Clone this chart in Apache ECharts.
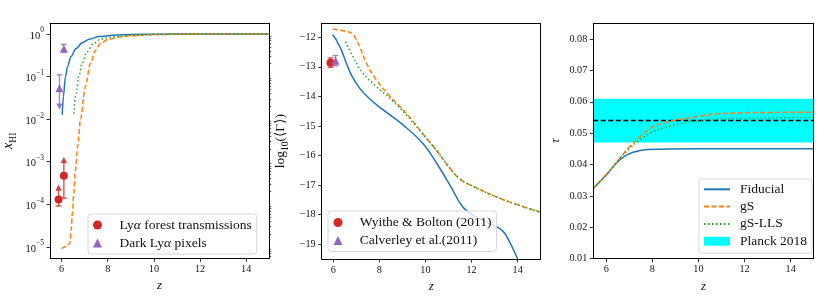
<!DOCTYPE html>
<html><head><meta charset="utf-8">
<script src="https://cdn.jsdelivr.net/npm/echarts@6/dist/echarts.min.js"></script>
<style>html,body{margin:0;padding:0;background:#fff}#c{width:830px;height:298px}</style>
</head><body><div id="c"></div><script>
// ---------------- data ----------------
const zTicks = [6, 8, 10, 12, 14];

// Panel 1: neutral fraction x_HI (actual values, drawn on log scale)
const xhiFidZ = [6.03, 6.08, 6.17, 6.26, 6.41, 6.63, 6.91, 7.2, 7.63, 8.2, 9, 10, 12, 15];
const xhiFid  = [0.0126, 0.0339, 0.100, 0.170, 0.295, 0.457, 0.631, 0.750, 0.871, 0.933, 0.973, 0.989, 0.995, 1.0];
const xhiGSZ  = [6.0, 6.2, 6.36, 6.42, 6.47, 6.53, 6.6, 6.7, 6.82, 7.03, 7.25, 7.47, 7.7, 8.0, 8.5, 9.0, 10, 11, 12, 15];
const xhiGS   = [9.1e-6, 1.02e-5, 1.2e-5, 2.51e-5, 6.31e-5, 1.78e-4, 6.31e-4, 2.24e-3, 1.0e-2, 5.75e-2, 0.204, 0.417, 0.603, 0.741, 0.851, 0.912, 0.966, 0.986, 0.993, 1.0];
const xhiLLSZ = [6.53, 6.63, 6.75, 6.89, 7.1, 7.39, 7.68, 8.0, 8.5, 9.0, 10, 11, 12, 15];
const xhiLLS  = [0.0135, 0.0407, 0.100, 0.204, 0.380, 0.603, 0.750, 0.822, 0.881, 0.923, 0.968, 0.986, 0.993, 1.0];
// observations: z, value, lower end, upper end, limit arrow (1 up, -1 down, 0 none)
const lyaForestZ   = [5.87, 6.1];
const lyaForest    = [1.3e-4, 4.7e-4];
const lyaForestLo  = [9.1e-5, 1.4e-4];
const lyaForestHi  = [2.2e-4, 9.8e-4];
const lyaForestLim = [1, 1];
const darkPixZ   = [5.91, 6.1];
const darkPix    = [0.053, 0.45];
const darkPixLo  = [0.022, 0.38];
const darkPixHi  = [0.11, 0.57];
const darkPixLim = [-1, 0];
const xhiRange = [5.4e-6, 1.78];
const xhiMajorExp = [-5, -4, -3, -2, -1, 0];

// Panel 2: log10 <Gamma>
const gamFidZ = [5.97, 6.1, 6.2, 6.35, 6.57, 6.79, 7.15, 7.6, 8.17, 9.0, 9.9, 10.5, 11.1, 11.62, 12.2, 12.8, 13.35, 13.7, 14.0, 14.3];
const gamFid  = [-11.92, -12.05, -12.2, -12.43, -12.88, -13.28, -13.73, -14.1, -14.46, -14.95, -15.6, -16.28, -17.05, -17.74, -18.08, -18.3, -18.55, -19.0, -19.5, -20.0];
const gamGSZ  = [5.98, 6.4, 6.8, 6.93, 7.15, 7.44, 7.88, 8.46, 9.2, 9.77, 10.5, 11.08, 11.5, 11.95, 13.4, 15];
const gamGS   = [-11.72, -11.78, -11.86, -11.98, -12.32, -12.88, -13.45, -14.0, -14.6, -15.15, -15.85, -16.45, -16.8, -17.0, -17.5, -17.92];
const gamLLSZ = [6.54, 6.86, 7.29, 7.88, 8.6, 9.2, 9.77, 10.5, 11.08, 11.5, 11.95, 13.4, 15];
const gamLLS  = [-12.15, -12.66, -13.22, -13.67, -14.17, -14.65, -15.17, -15.85, -16.45, -16.8, -17.0, -17.5, -17.92];
const wbZ = [5.88], wb = [-12.86], wbLo = [-13.02], wbHi = [-12.70];
const calZ = [6.1], cal = [-12.8], calLo = [-12.97], calHi = [-12.62];
const gamTicks = [-19, -18, -17, -16, -15, -14, -13, -12];

// Panel 3: optical depth tau
const tauFidZ = [5.44, 6.02, 6.45, 6.89, 7.47, 8.33, 10, 15];
const tauFid  = [0.0324, 0.0368, 0.0405, 0.0431, 0.0445, 0.0449, 0.045, 0.045];
const tauGSZ  = [5.44, 6.02, 6.6, 7.03, 7.47, 8.04, 8.63, 9.2, 10, 10.7, 12, 13, 15];
const tauGS   = [0.0324, 0.0369, 0.0421, 0.0458, 0.0489, 0.0521, 0.0536, 0.0544, 0.0553, 0.0561, 0.0565, 0.0566, 0.0567];
const tauLLSZ = [5.44, 6.02, 6.6, 7.03, 7.47, 8.04, 8.63, 9.2, 10, 10.8, 12, 13.5, 15];
const tauLLS  = [0.0324, 0.0369, 0.042, 0.0452, 0.0479, 0.0505, 0.0519, 0.053, 0.0539, 0.0545, 0.0547, 0.0549, 0.055];
const planckTau = 0.054, planckLo = 0.047, planckHi = 0.061;
const tauTicks = [0.01, 0.02, 0.03, 0.04, 0.05, 0.06, 0.07, 0.08];

// ---------------- chart ----------------
const SERIF = '"Liberation Serif","DejaVu Serif",serif';
const COL = {blue:'#1f77b4', orange:'#ff7f0e', green:'#2ca02c', red:'#d62728', purple:'#9467bd', cyan:'#00ffff'};
const LW = 1.5;
const lg = Math.log10;
const zip = (a, b, f) => a.map((v, i) => [v, f ? f(b[i]) : b[i]]);
const minus = v => (v < 0 ? '\u2212' + (-v) : '' + v);

const grids = [
  {left: 49.3, top: 23.3, width: 220, height: 235},
  {left: 321.7, top: 23.3, width: 219, height: 235.7},
  {left: 593.3, top: 23.3, width: 220.4, height: 235.4}
];
const zMin = [5.5, 5.5, 5.44];
const zMax = 15;

const tickLabel = {fontFamily: SERIF, fontSize: 10.2, color: '#111'};
const nameStyle = {fontFamily: SERIF, fontSize: 13, color: '#111'};

const xAxes = [], yAxes = [];
grids.forEach((g, i) => {
  xAxes.push({gridIndex: i, type: 'value', min: zMin[i], max: zMax, z: 10,
    axisLine: {show: true, onZero: false, lineStyle: {color: '#000', width: 1}},
    axisTick: {show: true, customValues: zTicks, length: 3.5, lineStyle: {color: '#000', width: 0.8}},
    axisLabel: Object.assign({customValues: zTicks, margin: 6}, tickLabel),
    splitLine: {show: false},
    name: 'z', nameLocation: 'middle', nameGap: 18,
    nameTextStyle: Object.assign({fontStyle: 'italic'}, nameStyle)});
  xAxes.push({gridIndex: i, type: 'value', position: 'top', min: zMin[i], max: zMax, z: 10,
    axisLine: {show: true, onZero: false, lineStyle: {color: '#000', width: 1}},
    axisTick: {show: false}, axisLabel: {show: false}, splitLine: {show: false}});
});

// minor ticks for log axis
const minorLog = [];
for (let e = -6; e <= 0; e++) for (let k = 2; k <= 9; k++) {
  const v = lg(k) + e;
  if (v > lg(xhiRange[0]) && v < lg(xhiRange[1])) minorLog.push(v);
}
const frameY = (gi, min, max) => ({gridIndex: gi, type: 'value', position: 'right', min, max, z: 10,
  axisLine: {show: true, onZero: false, lineStyle: {color: '#000', width: 1}},
  axisTick: {show: false}, axisLabel: {show: false}, splitLine: {show: false}});

// panel 0 y axes
yAxes.push({gridIndex: 0, type: 'value', min: lg(xhiRange[0]), max: lg(xhiRange[1]), z: 10,
  axisLine: {show: true, onZero: false, lineStyle: {color: '#000', width: 1}},
  axisTick: {show: true, customValues: xhiMajorExp, length: 3.5, lineStyle: {color: '#000', width: 0.8}},
  axisLabel: {customValues: xhiMajorExp, margin: 6, color: '#111',
    formatter: v => '{b|10}{s|' + minus(Math.round(v)) + '}',
    rich: {b: {fontFamily: SERIF, fontSize: 10.5, padding: [4, 0, 0, 0], verticalAlign: 'bottom', color: '#111'},
           s: {fontFamily: SERIF, fontSize: 7.5, lineHeight: 8, verticalAlign: 'top', color: '#111'}}},
  splitLine: {show: false},
  name: '{i|x}{u|HI}', nameLocation: 'middle', nameGap: 32,
  nameTextStyle: {rich: {i: {fontFamily: SERIF, fontSize: 14, fontStyle: 'italic', color: '#111', padding: [0, 0, 3, 0], verticalAlign: 'top'},
                         u: {fontFamily: SERIF, fontSize: 9.5, color: '#111', verticalAlign: 'bottom'}}}});
yAxes.push({gridIndex: 0, type: 'value', min: lg(xhiRange[0]), max: lg(xhiRange[1]), z: 10,
  axisLine: {show: false}, axisLabel: {show: false}, splitLine: {show: false},
  axisTick: {show: true, customValues: minorLog, length: 2, lineStyle: {color: '#000', width: 0.6}}});
yAxes.push(frameY(0, lg(xhiRange[0]), lg(xhiRange[1])));
// panel 1
yAxes.push({gridIndex: 1, type: 'value', min: -19.5, max: -11.53, z: 10,
  axisLine: {show: true, onZero: false, lineStyle: {color: '#000', width: 1}},
  axisTick: {show: true, customValues: gamTicks, length: 3.5, lineStyle: {color: '#000', width: 0.8}},
  axisLabel: Object.assign({customValues: gamTicks, margin: 6, formatter: v => minus(v)}, tickLabel),
  splitLine: {show: false},
  name: '{r|log}{u|10}{r|(\u27e8\u0393\u27e9)}', nameLocation: 'middle', nameGap: 31,
  nameTextStyle: {rich: {r: {fontFamily: SERIF, fontSize: 13.5, color: '#111', padding: [0, 0, 3, 0], verticalAlign: 'top'},
                         u: {fontFamily: SERIF, fontSize: 9.5, color: '#111', verticalAlign: 'bottom'}}}});
yAxes.push(frameY(1, -19.5, -11.53));
// panel 2
yAxes.push({gridIndex: 2, type: 'value', min: 0.01, max: 0.085, z: 10,
  axisLine: {show: true, onZero: false, lineStyle: {color: '#000', width: 1}},
  axisTick: {show: true, customValues: tauTicks, length: 3.5, lineStyle: {color: '#000', width: 0.8}},
  axisLabel: Object.assign({customValues: tauTicks, margin: 6, formatter: v => v.toFixed(2)}, tickLabel),
  splitLine: {show: false},
  name: '\u03c4', nameLocation: 'middle', nameGap: 31,
  nameTextStyle: Object.assign({fontStyle: 'italic'}, nameStyle)});
yAxes.push(frameY(2, 0.01, 0.085));

const Y0 = 0, Y1 = 3, Y2 = 5;

function lineSeries(name, xi, yi, data, color, kind, mono) {
  const type = kind === 'dash' ? [5, 2.5] : kind === 'dot' ? [1.5, 2.5] : 'solid';
  const s = {name, type: 'line', xAxisIndex: xi, yAxisIndex: yi, data, symbol: 'none', showSymbol: false,
    smooth: mono ? 0.3 : 0.4, color, z: 3,
    lineStyle: {color, width: LW, type, cap: 'butt'}};
  if (mono) s.smoothMonotone = 'x';
  return s;
}

function errRender(params, api) {
  const x = api.value(0), lo = api.value(2), hi = api.value(3), lim = api.value(4);
  const a = api.coord([x, lo]), b = api.coord([x, hi]);
  const color = api.visual('color');
  const st = {stroke: color, lineWidth: 1.4, opacity: 0.8};
  const ch = [{type: 'line', shape: {x1: a[0], y1: a[1], x2: b[0], y2: b[1]}, style: st}];
  const cap = p => ch.push({type: 'line', shape: {x1: p[0] - 2.8, y1: p[1], x2: p[0] + 2.8, y2: p[1]}, style: st});
  if (lim === 1) {
    ch.push({type: 'polygon', shape: {points: [[b[0] - 3.2, b[1] + 1], [b[0] + 3.2, b[1] + 1], [b[0], b[1] - 5]]}, style: {fill: color, opacity: 0.9}});
  } else cap(b);
  if (lim === -1) {
    ch.push({type: 'polygon', shape: {points: [[a[0] - 3.2, a[1] - 1], [a[0] + 3.2, a[1] - 1], [a[0], a[1] + 5]]}, style: {fill: color, opacity: 0.9}});
  } else cap(a);
  return {type: 'group', children: ch};
}
function errSeries(xi, yi, zs, v, lo, hi, lim, color, f) {
  f = f || (t => t);
  return {type: 'custom', xAxisIndex: xi, yAxisIndex: yi, renderItem: errRender, color, z: 4, silent: true,
    encode: {x: 0, y: 1},
    data: zs.map((z, i) => [z, f(v[i]), f(lo[i]), f(hi[i]), lim ? lim[i] : 0])};
}
function ptSeries(name, xi, yi, zs, v, symbol, size, color, f) {
  f = f || (t => t);
  return {name, type: 'scatter', xAxisIndex: xi, yAxisIndex: yi, symbol, symbolSize: size, color, z: 5,
    itemStyle: {color, opacity: 1}, data: zs.map((z, i) => [z, f(v[i])])};
}

const series = [
  // panel 0
  lineSeries('fid0', 0, Y0, zip(xhiFidZ, xhiFid, lg), COL.blue, 'solid', true),
  lineSeries('gs0', 0, Y0, zip(xhiGSZ, xhiGS, lg), COL.orange, 'dash', true),
  lineSeries('lls0', 0, Y0, zip(xhiLLSZ, xhiLLS, lg), COL.green, 'dot', true),
  errSeries(0, Y0, lyaForestZ, lyaForest, lyaForestLo, lyaForestHi, lyaForestLim, COL.red, lg),
  errSeries(0, Y0, darkPixZ, darkPix, darkPixLo, darkPixHi, darkPixLim, COL.purple, lg),
  ptSeries('Ly\u03b1 forest transmissions', 0, Y0, lyaForestZ, lyaForest, 'circle', 8, COL.red, lg),
  ptSeries('Dark Ly\u03b1 pixels', 0, Y0, darkPixZ, darkPix, 'triangle', 8, COL.purple, lg),
  // panel 1
  lineSeries('fid1', 2, Y1, zip(gamFidZ, gamFid), COL.blue, 'solid'),
  lineSeries('gs1', 2, Y1, zip(gamGSZ, gamGS), COL.orange, 'dash'),
  lineSeries('lls1', 2, Y1, zip(gamLLSZ, gamLLS), COL.green, 'dot'),
  errSeries(2, Y1, wbZ, wb, wbLo, wbHi, null, COL.red),
  errSeries(2, Y1, calZ, cal, calLo, calHi, null, COL.purple),
  ptSeries('Wyithe & Bolton (2011)', 2, Y1, wbZ, wb, 'circle', 8, COL.red),
  ptSeries('Calverley et al.(2011)', 2, Y1, calZ, cal, 'triangle', 8, COL.purple),
  // panel 2
  {name: 'Planck 2018', type: 'line', xAxisIndex: 4, yAxisIndex: Y2, data: [], color: COL.cyan, z: 1,
    markArea: {silent: true, itemStyle: {color: COL.cyan, opacity: 1}, data: [[{yAxis: planckLo}, {yAxis: planckHi}]]}},
  {name: 'planckMean', type: 'line', xAxisIndex: 4, yAxisIndex: Y2, symbol: 'none', z: 2, silent: true,
    data: [[zMin[2], planckTau], [zMax, planckTau]],
    lineStyle: {color: '#000', type: [5, 2.5], width: LW}},
  lineSeries('Fiducial', 4, Y2, zip(tauFidZ, tauFid), COL.blue, 'solid'),
  lineSeries('gS', 4, Y2, zip(tauGSZ, tauGS), COL.orange, 'dash'),
  lineSeries('gS-LLS', 4, Y2, zip(tauLLSZ, tauLLS), COL.green, 'dot')
];

const TRI = 'path://M0,10L5,0L10,10Z';
const LFS = 13.5;
const legendBase = {orient: 'vertical', selectedMode: false, borderColor: '#d6d6d6', borderWidth: 1, borderRadius: 3,
  backgroundColor: 'rgba(255,255,255,0.8)', itemWidth: 25, itemHeight: 9, symbolKeepAspect: true};
const legText = pad => ({fontFamily: SERIF, fontSize: LFS, lineHeight: 14, color: '#111', padding: [0, 0, 0, pad],
  rich: {n: {fontFamily: SERIF, fontSize: LFS, color: '#111'}, a: {fontFamily: SERIF, fontSize: LFS, fontStyle: 'italic', color: '#111'}}});
const fmt = n => '{n|' + n.replace(/\u03b1/g, '}{a|\u03b1}{n|') + '}';

const option = {
  animation: false,
  backgroundColor: '#fff',
  grid: grids.map(g => Object.assign({show: false, containLabel: false}, g)),
  xAxis: xAxes, yAxis: yAxes,
  legend: [
    Object.assign({}, legendBase, {left: 88, top: 214, padding: [4, 5, 4, 5], itemGap: 4, textStyle: legText(4.5), formatter: fmt,
      data: [{name: 'Ly\u03b1 forest transmissions', icon: 'circle'}, {name: 'Dark Ly\u03b1 pixels', icon: TRI}]}),
    Object.assign({}, legendBase, {left: 328, top: 211, padding: [4.5, 5, 4, 5.5], itemGap: 4, textStyle: legText(4.2), formatter: fmt,
      data: [{name: 'Wyithe & Bolton (2011)', icon: 'circle'}, {name: 'Calverley et al.(2011)', icon: TRI}]}),
    Object.assign({}, legendBase, {left: 699, top: 179, padding: [3.3, 5, 5, 4], itemGap: 3.3, itemWidth: 26, textStyle: legText(5), formatter: fmt,
      itemStyle: {opacity: 0},
      data: ['Fiducial', 'gS', 'gS-LLS', {name: 'Planck 2018', icon: 'rect', itemStyle: {opacity: 1, color: COL.cyan}}]})
  ],
  series
};
const chart = echarts.init(document.getElementById('c'), null, {renderer: 'canvas'});
chart.setOption(option);
</script></body></html>
